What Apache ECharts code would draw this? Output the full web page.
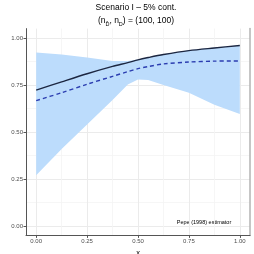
<!DOCTYPE html>
<html><head><meta charset="utf-8">
<script src="https://cdn.jsdelivr.net/npm/echarts@6/dist/echarts.min.js"></script>
<style>html,body{margin:0;padding:0;background:#fff}#c{width:254px;height:254px}</style>
</head><body><div id="c"></div>
<script>
const xs = [0, 0.125, 0.25, 0.375, 0.45, 0.5, 0.55, 0.625, 0.75, 0.875, 1];
const solidAUC = [0.723, 0.767, 0.810, 0.849, 0.869, 0.884, 0.896, 0.912, 0.933, 0.947, 0.960];
const dashedAUC = [0.667, 0.709, 0.754, 0.796, 0.821, 0.837, 0.848, 0.862, 0.872, 0.877, 0.878];
const bandUpper = [0.923, 0.912, 0.896, 0.877, 0.877, 0.886, 0.898, 0.914, 0.935, 0.949, 0.962];
const bandLower = [0.270, 0.410, 0.540, 0.670, 0.752, 0.779, 0.777, 0.750, 0.709, 0.645, 0.596];
const majorTicks = [0, 0.25, 0.5, 0.75, 1];
const minorTicks = [0.125, 0.375, 0.625, 0.875];
const tickLabels = ['0.00', '0.25', '0.50', '0.75', '1.00'];

const FONT = 'Liberation Sans, Arial, sans-serif';
const fmt = v => { const i = majorTicks.findIndex(t => Math.abs(t - v) < 1e-9); return i >= 0 ? tickLabels[i] : ''; };

const chart = echarts.init(document.getElementById('c'), null, {renderer: 'canvas'});
const pairs = a => xs.map((x, i) => [x, a[i]]);
const bandData = xs.map((x, i) => [x, bandLower[i], bandUpper[i]]);

chart.setOption({
  animation: false,
  backgroundColor: '#fff',
  grid: {left: 26, right: 4, top: 28.6, bottom: 18.6, containLabel: false, outerBoundsMode: 'none'},
  xAxis: [{
    type: 'value', min: -0.05, max: 1.05, position: 'bottom',
    axisLine: {show: true, onZero: false, lineStyle: {color: '#555', width: 1}},
    axisTick: {show: true, length: 2.5, customValues: majorTicks, lineStyle: {color: '#555'}},
    axisLabel: {customValues: majorTicks, formatter: fmt, fontSize: 6, color: '#4d4d4d', margin: 3, fontFamily: FONT},
    splitLine: {show: true, lineStyle: {color: '#ebebeb', width: 1}},
    name: 'x', nameLocation: 'middle', nameGap: 10, nameTextStyle: {fontSize: 7.5, color: '#000', fontFamily: FONT}
  }, {
    type: 'value', min: -0.05, max: 1.05, position: 'top',
    axisLine: {show: false}, axisLabel: {show: false},
    axisTick: {show: false, customValues: minorTicks},
    splitLine: {show: true, lineStyle: {color: '#f4f4f4', width: 0.8}}
  }],
  yAxis: [{
    type: 'value', min: -0.05, max: 1.05, position: 'left',
    axisLine: {show: true, onZero: false, lineStyle: {color: '#555', width: 1}},
    axisTick: {show: true, length: 2.5, customValues: majorTicks, lineStyle: {color: '#555'}},
    axisLabel: {customValues: majorTicks, formatter: fmt, fontSize: 6, color: '#4d4d4d', margin: 3, fontFamily: FONT},
    splitLine: {show: true, lineStyle: {color: '#ebebeb', width: 1}},
    name: 'AUC', nameLocation: 'middle', nameGap: 17, nameRotate: 90, nameTextStyle: {fontSize: 7.5, color: '#000', fontFamily: FONT}
  }, {
    type: 'value', min: -0.05, max: 1.05, position: 'right',
    axisLine: {show: true, onZero: false, lineStyle: {color: '#b3b3b3', width: 1.5}},
    axisLabel: {show: false},
    axisTick: {show: false, customValues: minorTicks},
    splitLine: {show: true, lineStyle: {color: '#f4f4f4', width: 0.8}}
  }],
  graphic: [
    {type: 'text', x: 136, y: 3, style: {text: 'Scenario I \u2013 5% cont.', font: '8.5px ' + FONT, fill: '#000', textAlign: 'center'}},
    {type: 'text', x: 136, y: 15, style: {text: '(n{s|D\u0304}, n{s|D}) = (100, 100)', font: '8.5px ' + FONT, fill: '#000', textAlign: 'center', lineHeight: 12,
      rich: {s: {fontSize: 5.5, fontFamily: FONT, verticalAlign: 'bottom', lineHeight: 6, fill: '#000'}}}},
    {type: 'text', x: 204, y: 222.5, style: {text: 'Pepe (1998) estimator', font: '5.5px ' + FONT, fill: '#000', textAlign: 'center', textVerticalAlign: 'middle'}}
  ],
  series: [
    {type: 'custom', data: bandData, silent: true, z: 1, clip: true,
      encode: {x: 0, y: [1, 2]},
      renderItem: function (params, api) {
        if (params.dataIndex !== 0) return null;
        const up = bandData.map(d => api.coord([d[0], d[2]]));
        const lo = bandData.map(d => api.coord([d[0], d[1]])).reverse();
        return {type: 'polygon', shape: {points: up.concat(lo)}, style: {fill: '#bcdcfc'}};
      }},
    {type: 'line', data: pairs(solidAUC), symbol: 'none', smooth: 0.3, lineStyle: {color: '#1c2640', width: 1.4}, z: 3},
    {type: 'line', data: pairs(dashedAUC), symbol: 'none', smooth: 0.3, lineStyle: {color: '#2b3db0', width: 1.4, type: [4, 3]}, z: 3}
  ]
});
</script></body></html>
